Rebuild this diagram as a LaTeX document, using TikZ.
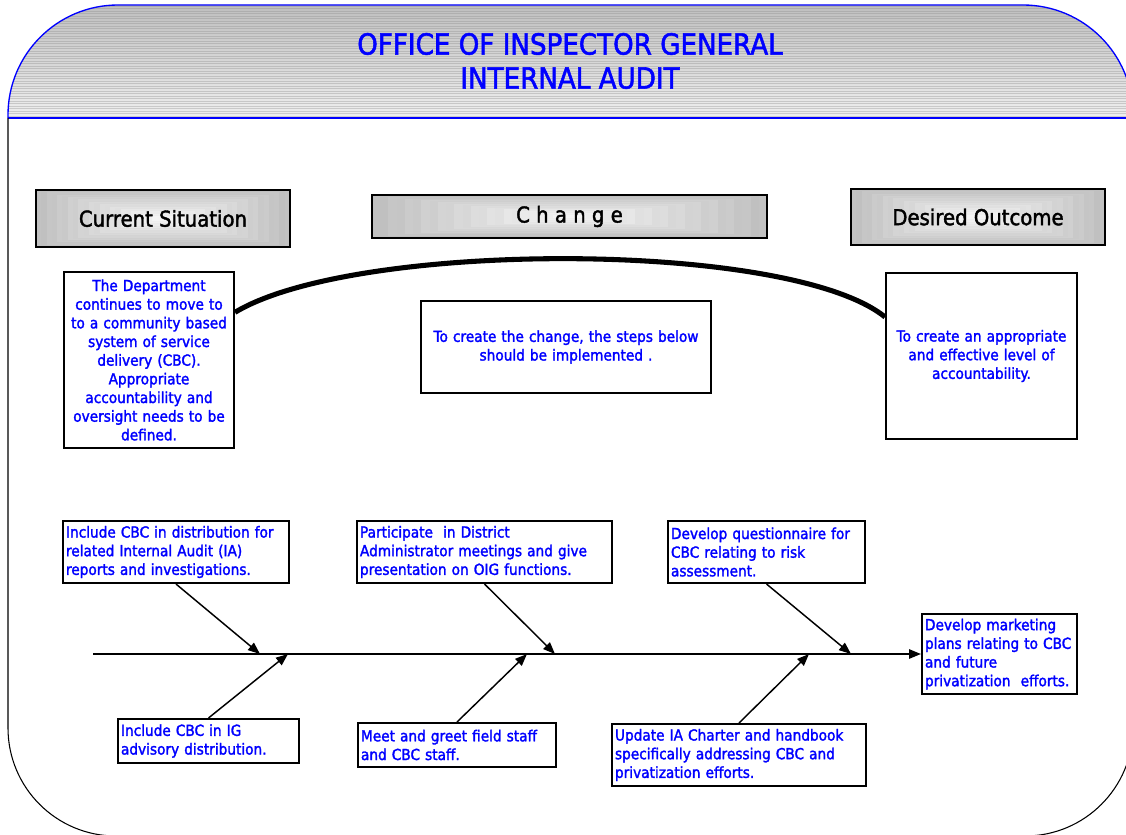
\documentclass[tikz,border=0pt]{standalone}
\usepackage{fontspec}
\setmainfont{DejaVu Sans}[FakeStretch=0.9, FakeBold=1.8]
\usetikzlibrary{arrows.meta}
\definecolor{tblue}{RGB}{0,0,255}
\newcommand\gradbox[4]{%
  \foreach \i in {0,...,23}{%
    \pgfmathsetmacro\gc{24-0.9*\i+1.5*mod(\i,2)}%
    \pgfmathsetmacro\ax{#1+\i*(#3-#1)/48}%
    \pgfmathsetmacro\ay{#2+\i*(#4-#2)/48}%
    \pgfmathsetmacro\bx{#3-\i*(#3-#1)/48}%
    \pgfmathsetmacro\by{#4-\i*(#4-#2)/48}%
    \fill[black!\gc] (\ax,\ay) rectangle (\bx,\by);}}
\begin{document}
\begin{tikzpicture}[x=0.75pt,y=-0.75pt,
  sz/.style 2 args={minimum width=#1*0.75pt, minimum height=#2*0.75pt},
  hdr/.style={draw=black, line width=1.5pt, inner sep=0pt, font=\fontsize{16.4}{19}\selectfont},
  bbox/.style={draw=black, line width=1.5pt, inner sep=0pt, text=tblue, font=\fontsize{11.4}{14}\selectfont},
  arr/.style={-{Triangle[length=9pt,width=7pt]}, line width=1.1pt},
  ]
\useasboundingbox (0,0) rectangle (1126,834);
\fill[white] (0,0) rectangle (1126,834);
% header band
\begin{scope}
  \clip (8,118) -- (8,115) arc[start angle=180,end angle=270,radius=110] -- (1023,5)
        arc[start angle=270,end angle=360,radius=110] -- (1133,118) -- cycle;
  \shade[top color=black!26, bottom color=black!6] (0,0) rectangle (1140,120);
  \foreach \yy in {6,8.5,...,117} \draw[black!45, opacity=0.35, line width=0.45pt] (0,\yy) -- (1140,\yy);
\end{scope}
\draw[blue, line width=1pt] (8,118) -- (8,115) arc[start angle=180,end angle=270,radius=110] -- (1023,5)
      arc[start angle=270,end angle=360,radius=110] -- (1133,118);
\draw[blue, line width=1.2pt] (8,118) -- (1133,118);
% frame
\draw[black, line width=0.8pt] (8,118) -- (8,728) arc[start angle=180,end angle=90,radius=108]
      -- (1025,836) arc[start angle=90,end angle=0,radius=108] -- (1133,118);
% title
\node[text=tblue, font=\fontsize{21.8}{25.5}\selectfont, align=center] (title) at (570,61)
  {OFFICE OF INSPECTOR GENERAL\\INTERNAL AUDIT};
% header boxes
\gradbox{36}{190}{290}{247}
\gradbox{372}{195}{767}{238}
\gradbox{851}{189}{1105}{245}
\node[hdr, sz={254}{57}] (cur) at (163,218.5) {Current Situation};
\node[hdr, sz={395}{43}] (chg) at (569.5,216.5) {C h a n g e};
\node[hdr, sz={254}{56}] (des) at (978,217) {Desired Outcome};
% upper text boxes
\node[bbox, sz={170}{176}, text width=120pt, align=center] (sit) at (149,360)
  {The Department\\continues to move to\\to a community based\\system of service\\delivery (CBC).\\Appropriate\\accountability and\\oversight needs to be\\defined.};
\node[bbox, sz={290}{92}, text width=210pt, align=center] (mid) at (566,347)
  {To create the change, the steps below\\should be implemented .};
\node[bbox, sz={191}{166}, text width=135.75pt, align=center] (out) at (981.5,356)
  {To create an appropriate\\and effective level of\\accountability.};
% arc
\draw[line width=3.8pt] (sit.29) .. controls (355,240) and (790,240) .. (out.158);
% fishbone boxes
\node[bbox, sz={226}{62}, text width=165pt, align=left] (b1) at (176,552)
  {Include CBC in distribution for\\related Internal Audit (IA)\\reports and investigations.};
\node[bbox, sz={255}{62}, text width=186.75pt, align=left] (b2) at (484.5,552)
  {Participate\ \ in District\\Administrator meetings and give\\presentation on OIG functions.};
\node[bbox, sz={197}{62}, text width=143.25pt, align=left] (b3) at (766.5,552)
  {Develop questionnaire for\\CBC relating to risk\\assessment.};
\node[bbox, sz={181}{44}, text width=131.25pt, align=left] (b4) at (208.5,741)
  {Include CBC in IG\\advisory distribution.};
\node[bbox, sz={198}{44}, text width=144pt, align=left] (b5) at (457,745)
  {Meet and greet field staff\\and CBC staff.};
\node[bbox, sz={254}{62}, text width=186pt, align=left] (b6) at (739,755)
  {Update IA Charter and handbook\\specifically addressing CBC and\\privatization efforts.};
\node[bbox, sz={155}{80}, text width=111.75pt, align=left] (b7) at (999.5,654)
  {Develop marketing\\plans relating to CBC\\and future\\privatization\ \ efforts.};
% spine
\coordinate (sp) at (93,654);
\coordinate (s1) at (260,654);
\coordinate (s2) at (288,654);
\coordinate (s3) at (555,654);
\coordinate (s4) at (527,654);
\coordinate (s5) at (851,654);
\coordinate (s6) at (809,654);
\draw[arr, line width=1.3pt] (sp) -- (b7.west);
\draw[arr] (b1.south) -- (s1);
\draw[arr] (b4.north) -- (s2);
\draw[arr] (b2.south) -- (s3);
\draw[arr] (b5.north) -- (s4);
\draw[arr] (b3.south) -- (s5);
\draw[arr] (b6.north) -- (s6);
\end{tikzpicture}
\end{document}
